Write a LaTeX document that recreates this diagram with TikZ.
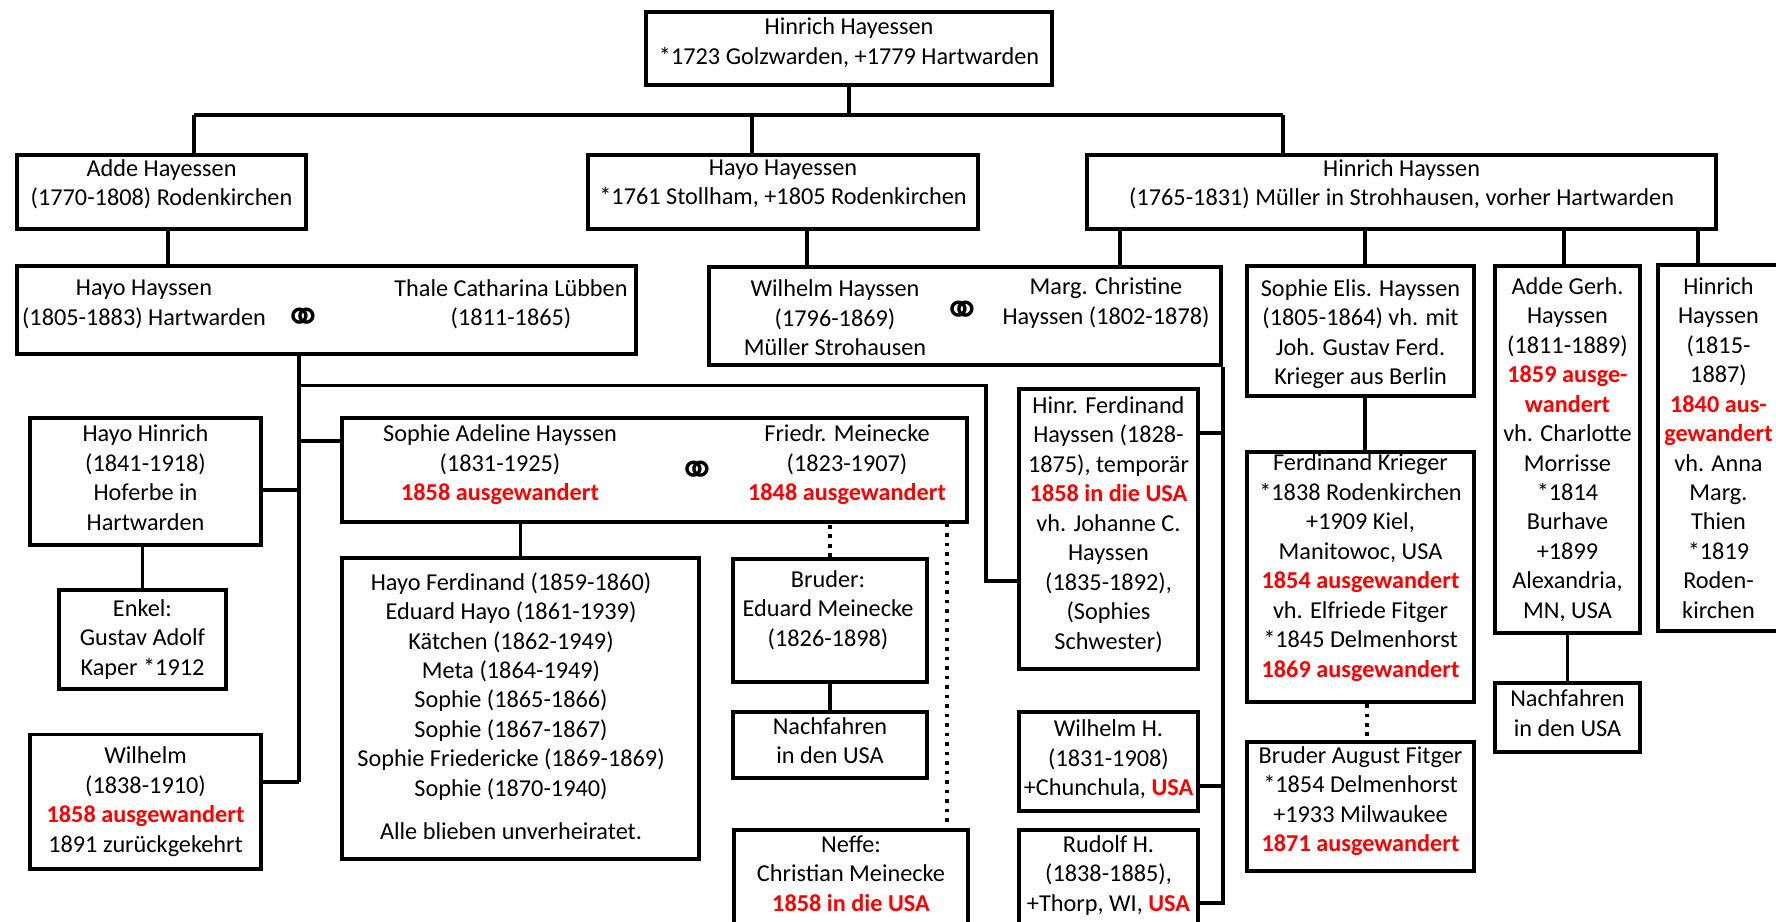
\documentclass[tikz,border=0pt]{standalone}
\usepackage{fontspec}
\setmainfont{Carlito}
\newfontfamily\ringfont{DejaVu Sans}
\definecolor{emired}{RGB}{255,0,0}
\newcommand{\emig}[1]{{\color{emired}\bfseries #1}}
\newcommand{\treefont}{\fontsize{6.9pt}{8.37pt}\selectfont}
% invisible struts to move a box text up (depth) or down (height)
\newcommand{\lift}[1]{\rule[-#1]{0pt}{#1}}
\newcommand{\sink}[1]{\rule{0pt}{#1}}
\tikzset{
  pbox/.style={draw, line width=1.1pt, inner sep=0pt, anchor=north west, align=center, font=\treefont},
  ptext/.style={inner sep=0pt, align=center, font=\treefont},
  ring/.style={inner sep=0pt, font=\ringfont\fontsize{13.5pt}{13.5pt}\selectfont},
  link/.style={line width=1.1pt},
  dotlink/.style={line width=1.1pt, dash pattern=on 1pt off 1.7pt}
}

\begin{document}
\begin{tikzpicture}[x=0.01cm, y=-0.01cm]
    \useasboundingbox (0,0) rectangle (1776,922);
    \clip (0,0) rectangle (1776,922);
    \fill[white] (0,0) rectangle (1776,922);

    % Generation 1 and 2
    \node[pbox, minimum width=4.06cm, minimum height=0.73cm] (top) at (644,10) {Hinrich Hayessen\\{*}1723 Golzwarden, +1779 Hartwarden\lift{4.1pt}};
    \node[pbox, minimum width=2.89cm, minimum height=0.74cm] (adde) at (15,153) {Adde Hayessen\\(1770-1808) Rodenkirchen\lift{5.4pt}};
    \node[pbox, minimum width=3.90cm, minimum height=0.74cm] (hayessen) at (586,153) {Hayo Hayessen\\{*}1761 Stollham, +1805 Rodenkirchen\lift{5.4pt}};
    \node[pbox, minimum width=6.29cm, minimum height=0.74cm] (hinrich) at (1085,153) {Hinrich Hayssen\\(1765-1831) Müller in Strohhausen, vorher Hartwarden\lift{5.4pt}};

    % Generation 3
    \node[pbox, minimum width=6.19cm, minimum height=0.88cm] (hayocpl) at (15,264) {};
    \node[ptext] (hayocplL) at (144,304.5) {Hayo Hayssen\\(1805-1883) Hartwarden};
    \node[ring] (hayocplO) at (303,321) {⚭};
    \node[ptext] (hayocplR) at (511,304.5) {Thale Catharina Lübben\\(1811-1865)};

    \node[pbox, minimum width=5.12cm, minimum height=0.98cm] (wilcpl) at (707,265) {};
    \node[ptext] (wilcplL) at (835,318) {Wilhelm Hayssen\\(1796-1869)\\Müller Strohausen};
    \node[ring] (wilcplO) at (962,314) {⚭};
    \node[ptext] (wilcplR) at (1106,303) {Marg. Christine\\Hayssen (1802-1878)};

    \node[pbox, minimum width=2.27cm, minimum height=1.30cm] (sophelis) at (1245,264) {\sink{6.6pt}Sophie Elis. Hayssen\\(1805-1864) vh. mit\\Joh. Gustav Ferd.\\Krieger aus Berlin};
    \node[pbox, minimum width=1.45cm, minimum height=3.67cm] (addegerh) at (1493,264) {Adde Gerh.\\Hayssen\\(1811-1889)\\\emig{1859 ausge-}\\\emig{wandert}\\vh. Charlotte\\Morrisse\\{*}1814\\Burhave\\+1899\\Alexandria,\\MN, USA};
    \node[pbox, minimum width=1.21cm, minimum height=3.66cm] (hinrjr) at (1656,263) {Hinrich\\Hayssen\\(1815-\\1887)\\\emig{1840 aus-}\\\emig{gewandert}\\vh. Anna\\Marg.\\Thien\\{*}1819\\Roden-\\kirchen};

    % Generation 4
    \node[pbox, minimum width=2.31cm, minimum height=1.265cm] (hhinrich) at (28,416.5) {Hayo Hinrich\\(1841-1918)\\Hoferbe in\\Hartwarden\lift{2.3pt}};
    \node[pbox, minimum width=1.67cm, minimum height=0.99cm] (enkel) at (57,588) {Enkel:\\Gustav Adolf\\Kaper {*}1912};
    \node[pbox, minimum width=2.31cm, minimum height=1.345cm] (wilhelm) at (28,732.5) {Wilhelm\\(1838-1910)\\\emig{1858 ausgewandert}\\1891 zurückgekehrt};

    \node[pbox, minimum width=6.25cm, minimum height=1.035cm] (sophcpl) at (340,416.5) {};
    \node[ptext] (sophcplL) at (500,465) {Sophie Adeline Hayssen\\(1831-1925)\\\emig{1858 ausgewandert}};
    \node[ring] (sophcplO) at (697,474) {⚭};
    \node[ptext] (sophcplR) at (847,465) {Friedr. Meinecke\\(1823-1907)\\\emig{1848 ausgewandert}};

    \node[pbox, minimum width=3.57cm, minimum height=3.01cm] (kids) at (340,556) {};
    \node[ptext] (kidsT) at (511,706) {Hayo Ferdinand (1859-1860)\\Eduard Hayo (1861-1939)\\Kätchen (1862-1949)\\Meta (1864-1949)\\Sophie (1865-1866)\\Sophie (1867-1867)\\Sophie Friedericke (1869-1869)\\Sophie (1870-1940)\\[3.9pt]Alle blieben unverheiratet.};

    \node[pbox, minimum width=1.94cm, minimum height=1.23cm] (bruder) at (731,557) {};
    \node[ptext] (bruderT) at (828,610) {Bruder:\\Eduard Meinecke\\(1826-1898)};
    \node[pbox, minimum width=1.94cm, minimum height=0.66cm] (nachA) at (731,710) {Nachfahren\\in den USA\lift{2.6pt}};
    \node[pbox, minimum width=2.34cm, minimum height=0.97cm] (neffe) at (732,828) {Neffe:\\Christian Meinecke\\\emig{1858 in die USA}\lift{2.9pt}};

    \node[pbox, minimum width=1.79cm, minimum height=2.80cm] (hferd) at (1017,387) {Hinr. Ferdinand\\Hayssen (1828-\\1875), temporär\\\emig{1858 in die USA}\\vh. Johanne C.\\Hayssen\\(1835-1892),\\(Sophies\\Schwester)\lift{3.5pt}};
    \node[pbox, minimum width=1.79cm, minimum height=0.99cm] (wilh) at (1017,710) {Wilhelm H.\\(1831-1908)\\+Chunchula, \emig{USA}\lift{2.2pt}};
    \node[pbox, minimum width=1.79cm, minimum height=0.98cm] (rudolf) at (1017,828) {Rudolf H.\\(1838-1885),\\+Thorp, WI, \emig{USA}\lift{3.3pt}};

    \node[pbox, minimum width=2.27cm, minimum height=2.50cm] (krieger) at (1245,450) {Ferdinand Krieger\\{*}1838 Rodenkirchen\\+1909 Kiel,\\Manitowoc, USA\\\emig{1854 ausgewandert}\\vh. Elfriede Fitger\\{*}1845 Delmenhorst\\\emig{1869 ausgewandert}\lift{6.5pt}};
    \node[pbox, minimum width=2.27cm, minimum height=1.29cm] (august) at (1245,740) {Bruder August Fitger\\{*}1854 Delmenhorst\\+1933 Milwaukee\\\emig{1871 ausgewandert}\lift{4.3pt}};
    \node[pbox, minimum width=1.45cm, minimum height=0.69cm] (nachB) at (1493,681) {Nachfahren\\in den USA\lift{2.6pt}};

    % Connector positions
    \coordinate (busL) at (194,115);
    \coordinate (busM) at (752,115);
    \coordinate (busR) at (1283,115);
    \coordinate (xA) at (168,0);
    \coordinate (xW1) at (807,0);
    \coordinate (xW2) at (1120,0);
    \coordinate (xS) at (1365,0);
    \coordinate (xG) at (1564,0);
    \coordinate (xH) at (1698,0);
    \coordinate (xT) at (299,0);
    \coordinate (xB) at (986,0);
    \coordinate (xN) at (947,0);
    \coordinate (xK) at (1367,0);
    \coordinate (yB1) at (0,385.5);
    \coordinate (yB2) at (0,581);
    \coordinate (yS) at (0,441);
    \coordinate (yH) at (0,490);
    \coordinate (yW) at (0,782);
    \coordinate (yF) at (0,433);
    \coordinate (yU) at (0,786);
    \coordinate (yR) at (0,903);

    % Descent lines
    \draw[link] (top.south) -- (top.south |- busL);
    \draw[link] (busL) -- (busR);
    \draw[link] (busL) -- (busL |- adde.north);
    \draw[link] (busM) -- (busM |- hayessen.north);
    \draw[link] (busR) -- (busR |- hinrich.north);

    \draw[link] (xA |- adde.south) -- (xA |- hayocpl.north);
    \draw[link] (xW1 |- hayessen.south) -- (xW1 |- wilcpl.north);
    \draw[link] (xW2 |- hinrich.south) -- (xW2 |- wilcpl.north);
    \draw[link] (xS |- hinrich.south) -- (xS |- sophelis.north);
    \draw[link] (xG |- hinrich.south) -- (xG |- addegerh.north);
    \draw[link] (xH |- hinrich.south) -- (xH |- hinrjr.north);

    \draw[link] (xT |- hayocpl.south) -- (xT |- yW);
    \draw[link] (wilhelm.east |- yW) -- (xT |- yW);
    \draw[link] (hhinrich.east |- yH) -- (xT |- yH);
    \draw[link] (xT |- yS) -- (sophcpl.west |- yS);
    \draw[link] (xT |- yB1) -| (xB |- yB2) -- (hferd.west |- yB2);
    \draw[link] (enkel.north) -- (enkel.north |- hhinrich.south);
    \draw[link] (kids.north) -- (kids.north |- sophcpl.south);
    \draw[link] (nachA.north) -- (nachA.north |- bruder.south);

    \draw[link] (wilcpl.south east) |- (rudolf.east |- yR);
    \draw[link] (hferd.east |- yF) -- (wilcpl.south east |- yF);
    \draw[link] (wilh.east |- yU) -- (wilcpl.south east |- yU);

    \draw[link] (xS |- sophelis.south) -- (xS |- krieger.north);
    \draw[link] (nachB.north) -- (nachB.north |- addegerh.south);

    % Dotted relations
    \draw[dotlink] (bruder.north) -- (bruder.north |- sophcpl.south);
    \draw[dotlink] (xN |- sophcpl.south) -- (xN |- neffe.north);
    \draw[dotlink] (xK |- krieger.south) -- (xK |- august.north);
\end{tikzpicture}
\end{document}
